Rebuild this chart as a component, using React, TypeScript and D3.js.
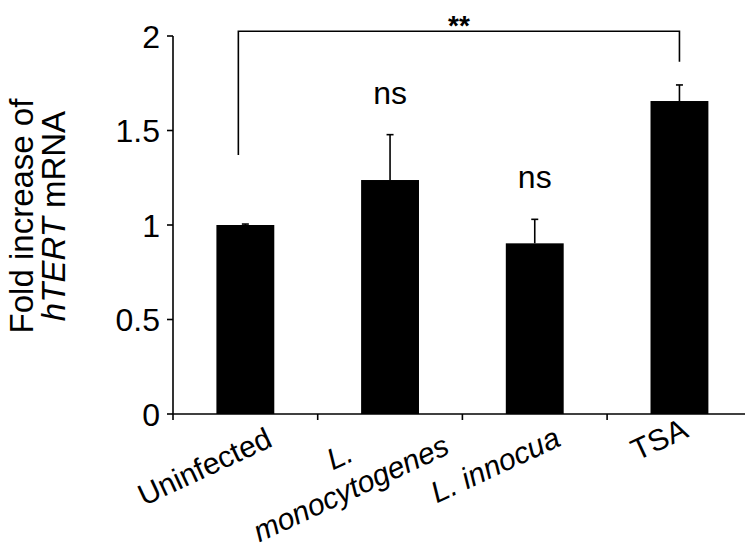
import React from 'react';
import * as d3 from 'd3';

const categories = ["Uninfected", "L. monocytogenes", "L. innocua", "TSA"];
const categoryLines = [["Uninfected"], ["L.", "monocytogenes"], ["L. innocua"], ["TSA"]];
const categoryItalic = [false, true, true, false];
const foldValues = [1.0, 1.238, 0.903, 1.656];
const foldErrors = [0.005, 0.24, 0.127, 0.085];
const significance = ["", "ns", "ns", ""];
const yTicks = [0, 0.5, 1, 1.5, 2];
const bracketPair = ["Uninfected", "TSA"];
const bracketLabel = "**";
const bracketTop = 2.025;
const bracketLegEnds = [1.37, 1.864];

const W = 745;
const H = 551;
const FONT = '"Liberation Sans", Arial, Helvetica, sans-serif';
const FS = 32;
const LABEL_FS = 30;
const ANGLE = 25;

function measure(text: string, italic: boolean, size: number): number {
  const ctx = document.createElement('canvas').getContext('2d');
  if (!ctx) return text.length * size * 0.5;
  ctx.font = `${italic ? 'italic ' : ''}${size}px ${FONT}`;
  return ctx.measureText(text).width;
}

export default function App() {
  const x0 = 173;
  const step = 144.7;
  const x = d3.scaleBand<string>().domain(categories).range([x0, x0 + step * categories.length]).paddingInner(0).paddingOuter(0);
  const y = d3.scaleLinear().domain([0, 2]).range([414, 36]);
  const barW = x.bandwidth() * 0.4;
  const cx = (c: string) => (x(c) as number) + x.bandwidth() / 2;
  const rad = (ANGLE * Math.PI) / 180;
  const sin = Math.sin(rad);
  const cos = Math.cos(rad);
  const lineH = LABEL_FS * 1.2;

  const bxL = cx(bracketPair[0]) - 7;
  const bxR = cx(bracketPair[1]);

  return (
    <svg width={W} height={H} style={{ position: 'absolute', left: 0, top: 0, background: '#fff' }} fontFamily={FONT}>
      <rect x={0} y={0} width={W} height={H} fill="#fff" />
      {categories.map((c, i) => (
        <rect key={c} x={cx(c) - barW / 2} y={y(foldValues[i])} width={barW} height={y(0) - y(foldValues[i])} fill="#000" />
      ))}
      {categories.map((c, i) => (
        <g key={'e' + c} stroke="#000" strokeWidth={1.6}>
          <line x1={cx(c)} x2={cx(c)} y1={y(foldValues[i])} y2={y(foldValues[i] + foldErrors[i])} />
          <line x1={cx(c) - 3.5} x2={cx(c) + 3.5} y1={y(foldValues[i] + foldErrors[i])} y2={y(foldValues[i] + foldErrors[i])} />
        </g>
      ))}
      {categories.map((c, i) =>
        significance[i] ? (
          <text key={'s' + c} x={cx(c)} y={y(foldValues[i] + foldErrors[i]) - 31} textAnchor="middle" fontSize={FS}>
            {significance[i]}
          </text>
        ) : null
      )}
      <path
        d={`M${bxL},${y(bracketLegEnds[0])}V${y(bracketTop)}H${bxR}V${y(bracketLegEnds[1])}`}
        fill="none"
        stroke="#000"
        strokeWidth={1.6}
      />
      <text x={(bxL + bxR) / 2} y={y(bracketTop) + 4} textAnchor="middle" fontSize={28} fontWeight="bold">
        {bracketLabel}
      </text>
      <line x1={x0} x2={x0} y1={y(2)} y2={y(0)} stroke="#000" strokeWidth={1.6} />
      {yTicks.map((t) => (
        <g key={'t' + t}>
          <line x1={x0 - 6} x2={x0} y1={y(t)} y2={y(t)} stroke="#000" strokeWidth={1.6} />
          <text x={x0 - 13} y={y(t)} dy="0.36em" textAnchor="end" fontSize={FS}>
            {String(t)}
          </text>
        </g>
      ))}
      <line x1={x0} x2={x0 + step * categories.length} y1={y(0)} y2={y(0)} stroke="#000" strokeWidth={1.6} />
      {d3.range(categories.length + 1).map((k) => (
        <line key={'xt' + k} x1={x0 + k * step} x2={x0 + k * step} y1={y(0)} y2={y(0) + 6} stroke="#000" strokeWidth={1.6} />
      ))}
      {categories.map((c, i) => {
        const lines = categoryLines[i];
        const italic = categoryItalic[i];
        const last = lines[lines.length - 1];
        const wl = measure(last, italic, LABEL_FS);
        const bx = cx(c) - 2 - 0.24 * wl + (lines.length - 1) * 18;
        const by = 430 + 0.32 * wl;
        return (
          <g key={'l' + c}>
            {lines.map((ln, j) => {
              const back = lines.length - 1 - j;
              const px = bx - sin * lineH * back + (back > 0 ? 4 : 0);
              const py = by - cos * lineH * back;
              return (
                <text
                  key={ln}
                  transform={`translate(${px},${py}) rotate(${-ANGLE})`}
                  textAnchor="middle"
                  fontSize={LABEL_FS}
                  fontStyle={italic ? 'italic' : 'normal'}
                >
                  {ln}
                </text>
              );
            })}
          </g>
        );
      })}
      <text transform="translate(33,216) rotate(-90)" textAnchor="middle" fontSize={33}>
        <tspan x={0} y={0}>Fold increase of</tspan>
        <tspan x={0} y={32}>
          <tspan fontStyle="italic">hTERT</tspan> mRNA
        </tspan>
      </text>
    </svg>
  );
}
